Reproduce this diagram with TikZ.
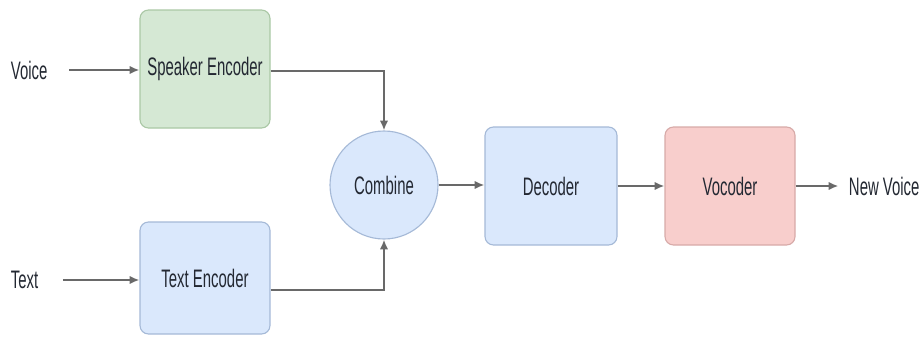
\documentclass[tikz,border=0pt]{standalone}
\usepackage{fontspec}
\setmainfont{Liberation Sans}[FakeStretch=0.59]
\usepackage{tikz}
\usetikzlibrary{arrows.meta,positioning}
\definecolor{spk-green}{RGB}{213,232,212}
\definecolor{spk-line}{RGB}{170,200,165}
\definecolor{enc-blue}{RGB}{218,232,252}
\definecolor{enc-line}{RGB}{165,185,215}
\definecolor{voc-red}{RGB}{248,206,204}
\definecolor{voc-line}{RGB}{215,170,168}
\definecolor{wire-gray}{RGB}{105,105,105}
\definecolor{ink}{RGB}{35,40,50}

\begin{document}
\begin{tikzpicture}[
    block/.style = {rectangle, rounded corners=6pt, line width=0.8pt,
                    minimum width=3.25cm, minimum height=2.95cm,
                    font=\fontsize{18}{21}\selectfont, text=ink},
    merge/.style = {circle, line width=0.8pt, minimum size=2.7cm,
                    draw=enc-line, fill=enc-blue,
                    font=\fontsize{18}{21}\selectfont, text=ink},
    io/.style    = {font=\fontsize{18}{21}\selectfont, text=ink},
    arrow/.style = {-{Latex[length=7pt,width=6pt]}, line width=1.3pt,
                    color=wire-gray}
  ]
    \useasboundingbox (0,0) rectangle (23.075,-8.425);

    %% ---- two encoders on the left ----
    \node[block, draw=spk-line, fill=spk-green] (spk) at (5.125,-1.725)
      {Speaker Encoder};
    \node[block, draw=enc-line, fill=enc-blue, minimum height=2.8cm] (txt)
      at (5.125,-6.95) {Text Encoder};
    \node[io, anchor=west] (voice) at (0.15,-1.75) {Voice};
    \node[io, anchor=west] (text) at (0.15,-7.0) {Text};
    \draw[arrow] ([xshift=12pt]voice.east) -- (spk.west |- voice.east);
    \draw[arrow] ([xshift=14pt]text.east) -- (txt.west |- text.east);

    %% ---- combine, then the decoder chain ----
    \node[merge] (comb) at (9.6,-4.625) {Combine};
    \node[block, draw=enc-line, fill=enc-blue, minimum width=3.3cm] (dec)
      at (13.775,-4.65) {Decoder};
    \node[block, draw=voc-line, fill=voc-red] (voc) at (18.25,-4.65)
      {Vocoder};
    \node[io, anchor=west] (out) at (21.1,-4.65) {New Voice};

    \draw[arrow] ([yshift=-0.05cm]spk.east) -| (comb.north);
    \draw[arrow] ([yshift=-0.3cm]txt.east) -| (comb.south);
    \draw[arrow] (comb.east) -- (dec.west |- comb.east);
    \draw[arrow] (dec.east) -- (voc.west);
    \draw[arrow] (voc.east) -- ([xshift=-4pt]out.west);

  \end{tikzpicture}
\end{document}
